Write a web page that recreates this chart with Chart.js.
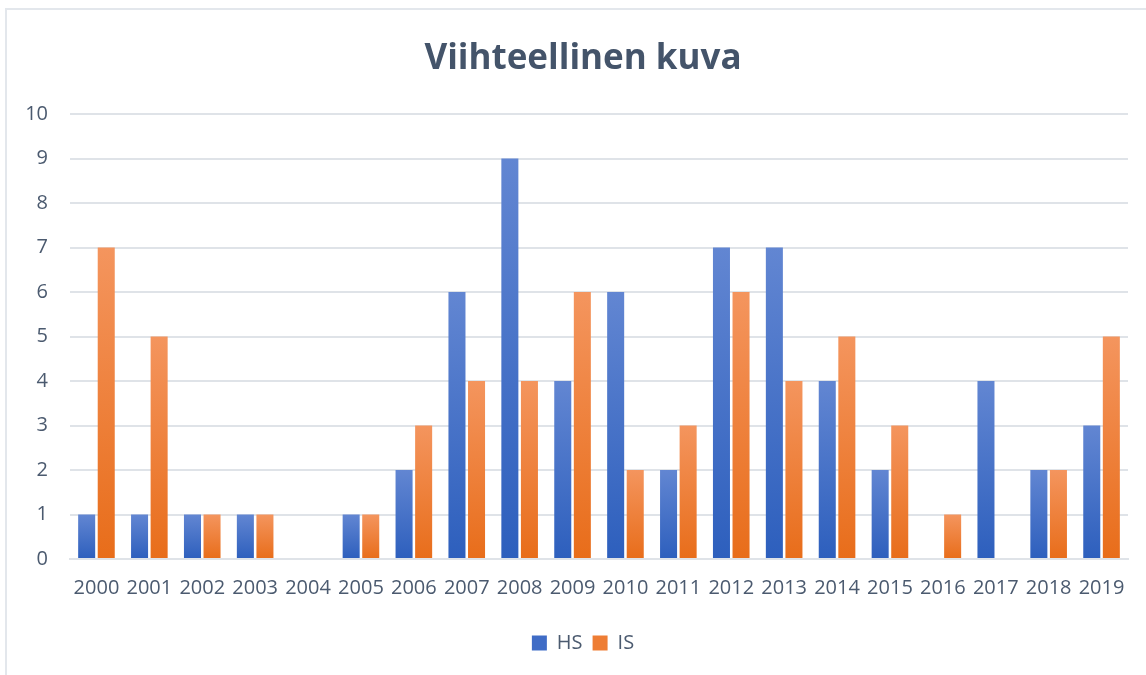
<!DOCTYPE html>
<html>
<head>
<meta charset="utf-8">
<script src="https://cdn.jsdelivr.net/npm/chart.js@4/dist/chart.umd.min.js"></script>
<style>
  html, body { margin: 0; padding: 0; background: #fff; }
  #wrap { position: relative; width: 1146px; height: 675px; overflow: hidden; }
  #frame { position: absolute; left: 5px; top: 8px; width: 1200px; height: 720px; border: 2px solid #e3e7ec; box-sizing: border-box; }
  #chart { position: absolute; left: 0; top: 0; }
</style>
</head>
<body>
<div id="wrap">
  <div id="frame"></div>
  <canvas id="chart" width="1146" height="675"></canvas>
</div>
<script>
const years = ['2000','2001','2002','2003','2004','2005','2006','2007','2008','2009',
               '2010','2011','2012','2013','2014','2015','2016','2017','2018','2019'];
const hsValues = [1, 1, 1, 1, 0, 1, 2, 6, 9, 4, 6, 2, 7, 7, 4, 2, 0, 4, 2, 3];
const isValues = [7, 5, 1, 1, 0, 1, 3, 4, 4, 6, 2, 3, 6, 4, 5, 3, 1, 0, 2, 5];

const textColor = '#4b5a6f';
const gridColor = '#dfe3e8';

// per-bar vertical gradient, light at the top, dark at the base
function barGradient(top, bottom) {
    return function (context) {
        const chart = context.chart;
        if (!chart.chartArea || context.type !== 'data') return bottom;
        const yScale = chart.scales.y;
        const yTop = yScale.getPixelForValue(context.raw);
        const yBase = yScale.getPixelForValue(0);
        if (Math.abs(yBase - yTop) < 1) return bottom;
        const g = chart.ctx.createLinearGradient(0, yTop, 0, yBase);
        g.addColorStop(0, top);
        g.addColorStop(1, bottom);
        return g;
    };
}

// title and legend sit a bit right of the canvas centre in the original
const centreShift = {
    id: 'centreShift',
    beforeDraw(chart) {
        if (chart.titleBlock) chart.titleBlock.left = 38;
        if (chart.legend) chart.legend.left = 38;
    }
};

const ctx = document.getElementById('chart').getContext('2d');
new Chart(ctx, {
    type: 'bar',
    data: {
        labels: years,
        datasets: [{
            label: 'HS',
            data: hsValues,
            backgroundColor: barGradient('#6286d2', '#2d5fbd'),
            legendColor: '#3f6cc6',
            borderWidth: 0
        }, {
            label: 'IS',
            data: isValues,
            backgroundColor: barGradient('#f4955e', '#e86d1a'),
            legendColor: '#ee7d34',
            borderWidth: 0
        }]
    },
    plugins: [centreShift],
    options: {
        responsive: false,
        animation: false,
        layout: { padding: { left: 0, right: 18, top: 0, bottom: 12 } },
        datasets: {
            bar: { categoryPercentage: 0.74, barPercentage: 0.87 }
        },
        plugins: {
            title: {
                display: true,
                text: 'Viihteellinen kuva',
                color: '#44546a',
                font: { family: 'Open Sans', size: 35, weight: 'bold' },
                padding: { top: 38, bottom: 34 }
            },
            legend: {
                position: 'bottom',
                labels: {
                    color: textColor,
                    font: { family: 'Open Sans', size: 20 },
                    boxWidth: 15,
                    boxHeight: 15,
                    padding: 10,
                    generateLabels: function (chart) {
                        return chart.data.datasets.map((ds, i) => ({
                            text: ds.label,
                            fillStyle: ds.legendColor,
                            strokeStyle: ds.legendColor,
                            lineWidth: 0,
                            fontColor: textColor,
                            datasetIndex: i
                        }));
                    }
                }
            },
            tooltip: { enabled: false }
        },
        scales: {
            x: {
                grid: { display: false },
                border: { display: true, color: gridColor, width: 2 },
                ticks: {
                    color: textColor,
                    font: { family: 'Open Sans', size: 20 },
                    padding: 9,
                    maxRotation: 0,
                    autoSkip: false
                },
                afterFit: function (scale) { scale.height = 64; }
            },
            y: {
                min: 0,
                max: 10,
                ticks: {
                    stepSize: 1,
                    color: textColor,
                    font: { family: 'Open Sans', size: 20 },
                    padding: 22
                },
                grid: { color: gridColor, lineWidth: 2, drawTicks: false },
                border: { display: false },
                afterFit: function (scale) { scale.width = 70; }
            }
        }
    }
});
</script>
</body>
</html>
